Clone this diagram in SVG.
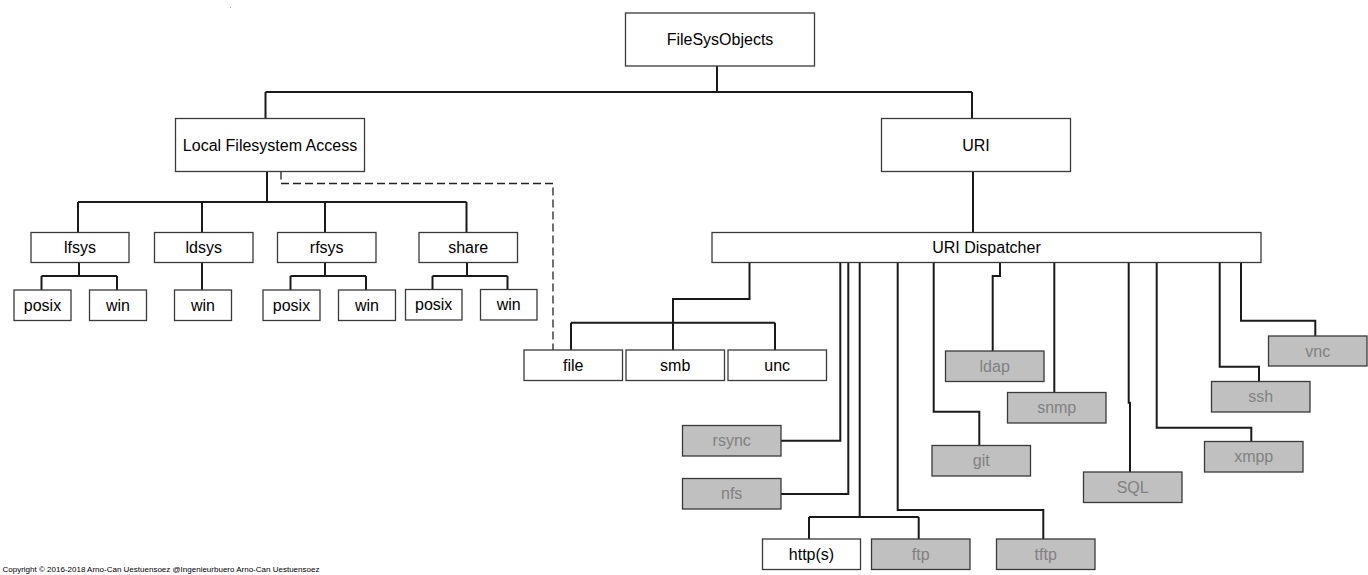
<svg xmlns="http://www.w3.org/2000/svg" width="1368" height="575" viewBox="0 0 1368 575">
<style>
.b rect{fill:#fff;stroke:#3a3a3a;stroke-width:1.3}
.g rect{fill:#c0c0c0;stroke:#3a3a3a;stroke-width:1.3}
text{font-family:"Liberation Sans",Arial,sans-serif;font-size:16px;text-anchor:middle;fill:#000}
.g text{fill:#808080}
.c path{fill:none;stroke:#1a1a1a;stroke-width:2}
.c path.d{stroke-width:1.3;stroke-dasharray:8,4;stroke:#222}
.cr{font-size:8px;text-anchor:start}
</style>
<rect width="1368" height="575" fill="#fff"/>
<rect x="230" y="7" width="1" height="1" fill="#aaa"/>
<g class="c" id="connectors">
<path d="M717,66V92M265.5,92H972M265.5,92V118.5M972,92V118.5"/>
<path d="M267,171.5V202M78,202H466.5M78,202V232.5M202,202V232.5M325,202V232.5M466.5,202V232.5"/>
<path d="M79,262.5V276M41.5,276H117M41.5,276V290M117,276V290"/>
<path d="M202,262.5V290"/>
<path d="M325,262.5V276M290.5,276H366M290.5,276V290M366,276V290"/>
<path d="M467,262.5V276M432.5,276H507.5M432.5,276V289.5M507.5,276V289.5"/>
<path class="d" d="M281,171.5V183.5H553V350"/>
<path d="M973,171.5V232.5"/>
<path d="M749.5,262.5V299H673V350M571,322.7H775M571,322.7V350M775,322.7V350"/>
<path d="M781,440.7H840.3V262.5"/>
<path d="M781,494H848.3V262.5"/>
<path d="M859.7,262.5V517M809,517H918.7M809,517V539M918.7,517V539"/>
<path d="M897.7,262.5V510H1043.3V539"/>
<path d="M933.7,262.5V411.7H979.3V445.5"/>
<path d="M1000,262.5V276H992.7V351"/>
<path d="M1054.3,262.5V392.5"/>
<path d="M1128.7,262.5V402.7H1130V472"/>
<path d="M1156.7,262.5V427.7H1251.3V441.5"/>
<path d="M1219.7,262.5V366.7H1259V381.5"/>
<path d="M1241,262.5V320.7H1315.3V336"/>
</g>
<g class="b" id="filesysobjects"><rect x="625.5" y="13" width="189" height="53"/><text x="720" y="45">FileSysObjects</text></g>
<g class="b" id="lfa"><rect x="175.5" y="118.5" width="189" height="53"/><text x="270" y="150.5">Local Filesystem Access</text></g>
<g class="b" id="uri"><rect x="881.5" y="118.5" width="189" height="53"/><text x="976" y="150.5">URI</text></g>
<g class="b" id="lfsys"><rect x="31" y="232.5" width="98" height="30"/><text x="80" y="253">lfsys</text></g>
<g class="b" id="ldsys"><rect x="154.5" y="232.5" width="98.5" height="30"/><text x="203.7" y="253">ldsys</text></g>
<g class="b" id="rfsys"><rect x="277.5" y="232.5" width="98.5" height="30"/><text x="326.7" y="253">rfsys</text></g>
<g class="b" id="share"><rect x="419" y="232.5" width="98.5" height="30"/><text x="468.2" y="253">share</text></g>
<g class="b" id="lfsys-posix"><rect x="14" y="290" width="57" height="30.5"/><text x="42.5" y="310.7">posix</text></g>
<g class="b" id="lfsys-win"><rect x="89.5" y="290" width="57" height="30.5"/><text x="118" y="310.7">win</text></g>
<g class="b" id="ldsys-win"><rect x="174.5" y="290" width="57" height="30.5"/><text x="203" y="310.7">win</text></g>
<g class="b" id="rfsys-posix"><rect x="263" y="290" width="57" height="30.5"/><text x="291.5" y="310.7">posix</text></g>
<g class="b" id="rfsys-win"><rect x="338.5" y="290" width="57" height="30.5"/><text x="367" y="310.7">win</text></g>
<g class="b" id="share-posix"><rect x="405.5" y="289.5" width="56.5" height="30.5"/><text x="433.7" y="310.2">posix</text></g>
<g class="b" id="share-win"><rect x="480.5" y="289.5" width="56.5" height="30.5"/><text x="508.7" y="310.2">win</text></g>
<g class="b" id="dispatcher"><rect x="712" y="232.5" width="549" height="30"/><text x="986.5" y="253">URI Dispatcher</text></g>
<g class="b" id="file"><rect x="524" y="350" width="98.5" height="30.5"/><text x="573.2" y="370.7">file</text></g>
<g class="b" id="smb"><rect x="626" y="350" width="98.5" height="30.5"/><text x="675.2" y="370.7">smb</text></g>
<g class="b" id="unc"><rect x="728" y="350" width="98.5" height="30.5"/><text x="777.2" y="370.7">unc</text></g>
<g class="g" id="rsync"><rect x="682.5" y="425.5" width="98.5" height="30.5"/><text x="731.7" y="446.2">rsync</text></g>
<g class="g" id="nfs"><rect x="682.5" y="478.5" width="98.5" height="30.5"/><text x="731.7" y="499.2">nfs</text></g>
<g class="b" id="https"><rect x="762.5" y="539" width="98" height="30.5"/><text x="811.5" y="559.7">http(s)</text></g>
<g class="g" id="ftp"><rect x="871.5" y="539" width="98.5" height="30.5"/><text x="920.7" y="559.7">ftp</text></g>
<g class="g" id="tftp"><rect x="996.5" y="539" width="98.5" height="30.5"/><text x="1045.7" y="559.7">tftp</text></g>
<g class="g" id="git"><rect x="932" y="445.5" width="98.5" height="30.5"/><text x="981.2" y="466.2">git</text></g>
<g class="g" id="ldap"><rect x="945.5" y="351" width="98.5" height="30.5"/><text x="994.7" y="371.7">ldap</text></g>
<g class="g" id="snmp"><rect x="1007.5" y="392.5" width="98.5" height="30.5"/><text x="1056.7" y="413.2">snmp</text></g>
<g class="g" id="sql"><rect x="1083.5" y="472" width="98.5" height="30.5"/><text x="1132.7" y="492.7">SQL</text></g>
<g class="g" id="xmpp"><rect x="1204.5" y="441.5" width="98.5" height="30.5"/><text x="1253.7" y="462.2">xmpp</text></g>
<g class="g" id="ssh"><rect x="1211.5" y="381.5" width="98.5" height="30.5"/><text x="1260.7" y="402.2">ssh</text></g>
<g class="g" id="vnc"><rect x="1268.5" y="336" width="98.5" height="30"/><text x="1317.7" y="356.5">vnc</text></g>
<text class="cr" x="2.5" y="572">Copyright © 2016-2018 Arno-Can Uestuensoez @Ingenieurbuero Arno-Can Uestuensoez</text>
</svg>
